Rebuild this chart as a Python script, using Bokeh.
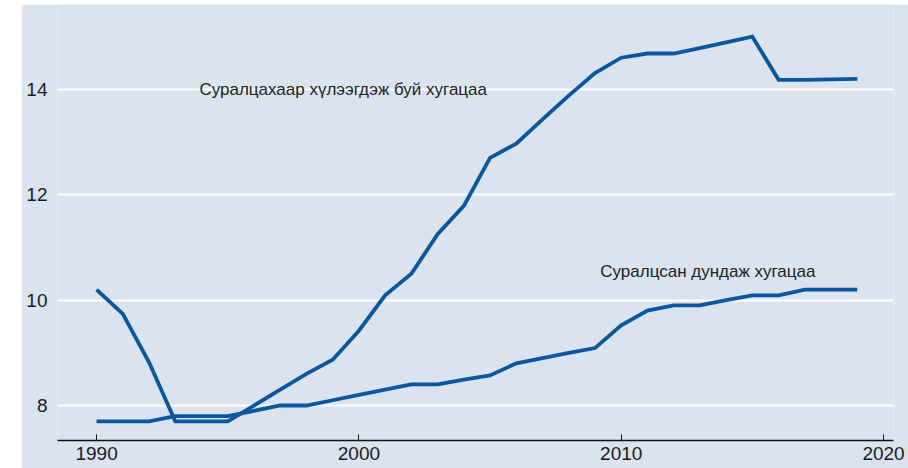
from bokeh.plotting import figure
from bokeh.models import Range1d, FixedTicker, Spacer
from bokeh.layouts import row, column
from bokeh.core.properties import value
from bokeh.embed import file_html
from bokeh.resources import INLINE

years = list(range(1990, 2020))
expected_years = [10.2, 9.74, 8.82, 7.7, 7.7, 7.7, 8.0, 8.3, 8.6, 8.87,
                  9.42, 10.09, 10.5, 11.25, 11.79, 12.7, 12.97, 13.43, 13.88, 14.31,
                  14.6, 14.68, 14.68, 14.78, 14.89, 15.0, 14.18, 14.18, 14.19, 14.2]
mean_years = [7.7, 7.7, 7.7, 7.8, 7.8, 7.8, 7.9, 8.0, 8.0, 8.1,
              8.2, 8.3, 8.4, 8.4, 8.49, 8.57, 8.8, 8.9, 9.0, 9.09,
              9.52, 9.8, 9.9, 9.9, 10.0, 10.09, 10.09, 10.2, 10.2, 10.2]
x_ticks = [1990, 2000, 2010, 2020]
y_ticks = [8, 10, 12, 14]
label_expected = "Суралцахаар хүлээгдэж буй хугацаа"
label_mean = "Суралцсан дундаж хугацаа"

BG = "#dae3ee"
LINE = "#0a56a0"
FONT = "Liberation Sans"

p = figure(width=887, height=464, output_backend="svg", toolbar_location=None,
           x_range=Range1d(1988.51, 2020.38), y_range=Range1d(7.336, 15.61),
           min_border_left=36, min_border_right=15, min_border_top=0, min_border_bottom=28)
p.background_fill_color = BG
p.border_fill_color = BG
p.outline_line_color = None

p.xgrid.grid_line_color = None
p.ygrid.ticker = FixedTicker(ticks=y_ticks)
p.ygrid.grid_line_color = "white"
p.ygrid.grid_line_width = 2

p.xaxis.ticker = FixedTicker(ticks=x_ticks)
p.xaxis.axis_line_color = "#111111"
p.xaxis.axis_line_width = 1.5
p.xaxis.major_tick_in = 6
p.xaxis.major_tick_out = 0
p.xaxis.major_tick_line_color = "#111111"
p.xaxis.minor_tick_line_color = None
p.xaxis.major_label_standoff = 6
p.xaxis.major_label_text_font = FONT
p.xaxis.major_label_text_font_size = "19px"
p.xaxis.major_label_text_color = "#1a1a1a"

p.yaxis.ticker = FixedTicker(ticks=y_ticks)
p.yaxis.axis_line_color = None
p.yaxis.major_tick_line_color = None
p.yaxis.minor_tick_line_color = None
p.yaxis.major_label_standoff = 4
p.yaxis.major_label_text_font = FONT
p.yaxis.major_label_text_font_size = "19px"
p.yaxis.major_label_text_color = "#1a1a1a"

p.line(years, expected_years, line_color=LINE, line_width=3.8, line_join="miter")
p.line(years, mean_years, line_color=LINE, line_width=3.8, line_join="miter")

p.text(x=[1993.92], y=[14.0], text=[label_expected], text_font=value(FONT),
       text_font_size="17px", text_color="#222222", text_baseline="middle", text_align="left")
p.text(x=[2009.2], y=[10.54], text=[label_mean], text_font=value(FONT),
       text_font_size="17px", text_color="#222222", text_baseline="middle", text_align="left")

layout = column(Spacer(width=908, height=4),
                row(Spacer(width=21, height=464), p))
open("out.html", "w").write(file_html(layout, INLINE))
